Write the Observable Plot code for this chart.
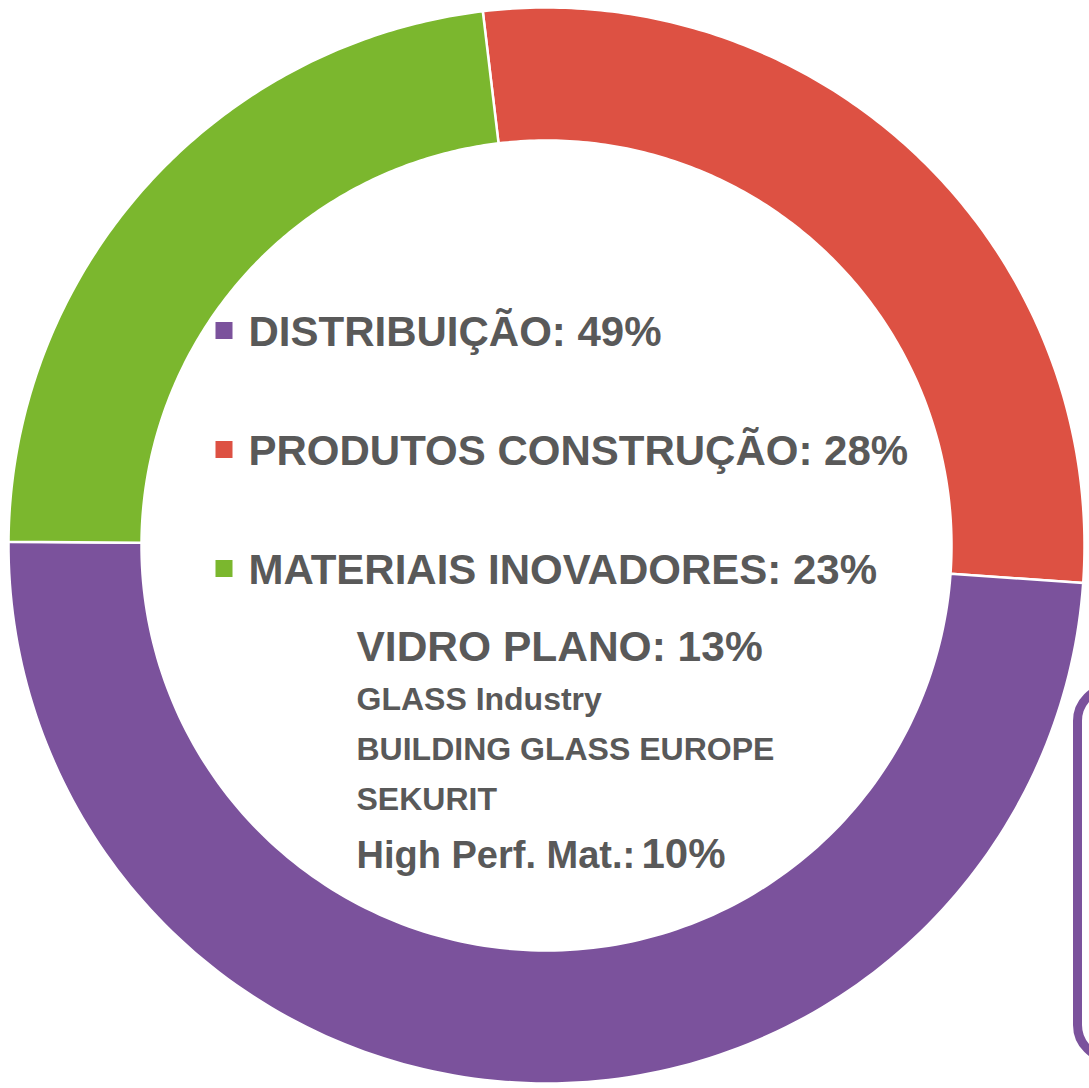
<!DOCTYPE html>
<html><head><meta charset="utf-8">
<script src="https://cdn.jsdelivr.net/npm/d3@7"></script>
<script src="https://cdn.jsdelivr.net/npm/@observablehq/plot@0.6"></script>
<style>
html,body{margin:0;padding:0;background:#fff;overflow:hidden}
#wrap{position:relative;width:1089px;height:1088px}
#wrap svg{position:absolute;left:0;top:0}
#box{position:absolute;left:1073px;top:683px;width:140px;height:380px;border:9px solid #7b529c;border-radius:38px;box-sizing:border-box}
</style></head><body><div id="wrap"></div>
<script>
// ---- data ----
const segments = ["DISTRIBUIÇÃO", "PRODUTOS CONSTRUÇÃO", "MATERIAIS INOVADORES"];
const shares = [49, 28, 23];
const colors = ["#7b529c", "#dd5143", "#7bb72e"];
const pieOrder = ["PRODUTOS CONSTRUÇÃO", "DISTRIBUIÇÃO", "MATERIAIS INOVADORES"]; // clockwise
const detailTitle = "VIDRO PLANO: 13%";
const detailLines = ["GLASS Industry", "BUILDING GLASS EUROPE", "SEKURIT"];
const hpmLabel = "High Perf. Mat.:";
const hpmValue = "10%";

// ---- layout ----
const W = 1089, H = 1088;
const cx = 546, cy = 545, R = 538, r0 = 405;
const startDeg = -6.8;
const textColor = "#595959";
const font = "'Liberation Sans', Arial, Helvetica, sans-serif";

const rows = segments.map((s, i) => ({key: s, value: shares[i], label: `${s}: ${shares[i]}%`}));
const pie = d3.pie().sort(null).value(d => d.value)
  .startAngle(startDeg * Math.PI / 180).endAngle(startDeg * Math.PI / 180 + 2 * Math.PI);
const arcs = pie(pieOrder.map(k => rows.find(d => d.key === k)));

const pts = [];
for (const a of arcs) {
  const n = 160;
  for (let i = 0; i <= n; i++) {
    const t = a.startAngle + (a.endAngle - a.startAngle) * i / n;
    pts.push({key: a.data.key, x: cx + R * Math.sin(t), y: cy - R * Math.cos(t)});
  }
  for (let i = n; i >= 0; i--) {
    const t = a.startAngle + (a.endAngle - a.startAngle) * i / n;
    pts.push({key: a.data.key, x: cx + r0 * Math.sin(t), y: cy - r0 * Math.cos(t)});
  }
}

const legendX = 248, legendY0 = 345, legendStep = 119;
const legendRows = rows.map((d, i) => ({...d, x: legendX, y: legendY0 + i * legendStep}));

const detX = 356;
const detRows = [
  {text: detailTitle, y: 660, size: 42.5},
  ...detailLines.map((t, i) => ({text: t, y: 709 + i * 50, size: 32})),
];

const chart = Plot.plot({
  width: W, height: H,
  margin: 0,
  x: {domain: [0, W], range: [0, W], axis: null},
  y: {domain: [0, H], range: [0, H], axis: null},
  color: {domain: segments, range: colors},
  style: {background: "transparent", fontFamily: font},
  marks: [
    Plot.line(pts, {x: "x", y: "y", z: "key", fill: "key", stroke: "white", strokeWidth: 2.5, curve: "linear-closed"}),
    Plot.dot(legendRows, {x: d => d.x - 24.5, y: d => d.y - 15, symbol: "square", r: 9.6, fill: "key", stroke: null}),
    Plot.text(legendRows, {x: "x", y: "y", text: "label", textAnchor: "start", lineAnchor: "bottom",
      fontSize: 42, fontWeight: "bold", fill: textColor, fontFamily: font}),
    ...detRows.map(d => Plot.text([d], {x: () => detX, y: "y", text: "text", textAnchor: "start", lineAnchor: "bottom",
      fontSize: d.size, fontWeight: "bold", fill: textColor, fontFamily: font})),
    Plot.text([hpmLabel], {x: () => detX, y: () => 867, text: d => d, textAnchor: "start", lineAnchor: "bottom",
      fontSize: 38, fontWeight: "bold", fill: textColor, fontFamily: font}),
    Plot.text([hpmValue], {x: () => 641, y: () => 867, text: d => d, textAnchor: "start", lineAnchor: "bottom",
      fontSize: 42, fontWeight: "bold", fill: textColor, fontFamily: font})
  ]
});
const wrap = document.getElementById("wrap");
wrap.appendChild(chart);
const box = document.createElement("div");
box.id = "box";
wrap.appendChild(box);
</script>
</body></html>
